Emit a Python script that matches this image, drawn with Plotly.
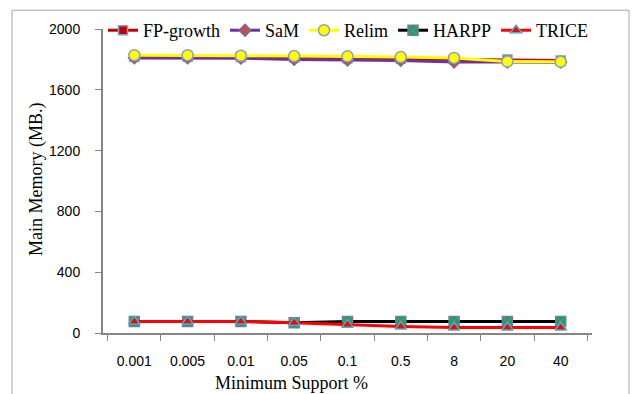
import plotly.graph_objects as go

categories = ["0.001", "0.005", "0.01", "0.05", "0.1", "0.5", "8", "20", "40"]
fp_growth = [1818, 1818, 1815, 1812, 1808, 1806, 1803, 1800, 1792]
sam = [1810, 1810, 1808, 1800, 1795, 1793, 1783, 1783, 1782]
relim = [1828, 1828, 1824, 1822, 1820, 1815, 1810, 1786, 1784]
harpp = [76, 76, 76, 68, 76, 76, 76, 76, 76]
trice = [76, 76, 76, 68, 55, 42, 36, 36, 36]
y_ticks = [0, 400, 800, 1200, 1600, 2000]

series = [
    ("FP-growth", fp_growth, "#C00000", "square", "#C00000", "#7F9FC8", 9),
    ("SaM", sam, "#7030A0", "diamond", "#C0504D", "#8064A2", 9),
    ("Relim", relim, "#FFFF00", "circle", "#FFFF00", "#8EA0B8", 11),
    ("HARPP", harpp, "#000000", "square-x", "#00B050", "#6A7F9A", 10),
    ("TRICE", trice, "#FF0000", "triangle-up", "#FF0000", "#4BACC6", 10),
]

fig = go.Figure()
for name, vals, lc, sym, mc, mlc, ms in series:
    fig.add_trace(go.Scatter(
        x=categories, y=vals, name=name, mode="lines+markers",
        line=dict(color=lc, width=3),
        marker=dict(symbol=sym, color=mc, size=ms, line=dict(color=mlc, width=1.5)),
    ))

tickfont = dict(family="Liberation Sans", size=14, color="#000000")
fig.update_layout(
    width=634, height=394,
    margin=dict(l=103, r=42, t=25, b=61),
    paper_bgcolor="white", plot_bgcolor="white",
    showlegend=True,
    legend=dict(orientation="h", x=0.0, xanchor="left", y=0.995, yanchor="middle",
                font=dict(family="Liberation Serif", size=18, color="#000000"),
                itemwidth=30, tracegroupgap=0, bgcolor="rgba(0,0,0,0)"),
    xaxis=dict(type="category", showgrid=False, showline=True, linecolor="#868686", linewidth=2,
               ticks="outside", tickson="boundaries", ticklen=6, tickcolor="#868686", tickwidth=1,
               tickfont=tickfont, ticklabelstandoff=14, zeroline=False),
    yaxis=dict(range=[0, 2000], tickvals=y_ticks, showgrid=False, showline=True,
               linecolor="#868686", linewidth=2, ticks="outside", ticklen=6,
               tickcolor="#868686", tickwidth=1, tickfont=tickfont, ticklabelstandoff=12,
               zeroline=False),
    shapes=[dict(type="rect", xref="paper", yref="paper", x0=-0.186, x1=1.0757,
                 y0=-0.25, y1=1.0617, line=dict(color="#A6A6A6", width=1), layer="below")],
    annotations=[
        dict(text="Minimum Support %", xref="paper", yref="paper", x=(291 - 103) / 489,
             y=(333 - 384) / 308, xanchor="center", yanchor="middle", showarrow=False,
             font=dict(family="Liberation Serif", size=18, color="#000000")),
        dict(text="Main Memory (MB.)", xref="paper", yref="paper", x=(36 - 103) / 489,
             y=(333 - 178) / 308, xanchor="center", yanchor="middle", showarrow=False,
             textangle=-90, font=dict(family="Liberation Serif", size=18, color="#000000")),
    ],
)
fig.write_html("out.html")
